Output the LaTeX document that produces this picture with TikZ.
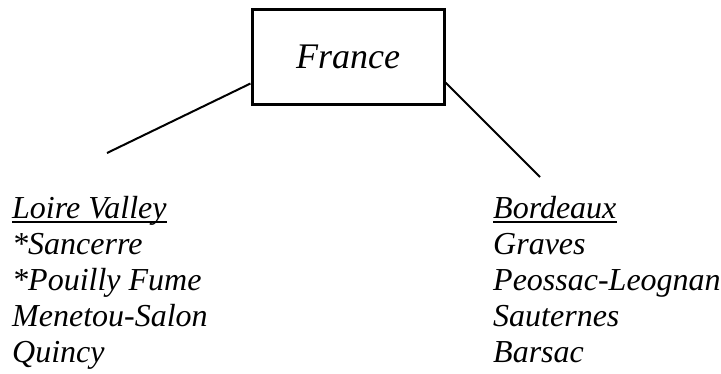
\documentclass[tikz,border=0pt]{standalone}
\usepackage{fontspec}
\setmainfont{Liberation Serif}
\begin{document}
\begin{tikzpicture}[x=1pt,y=-1pt,
  boxstyle/.style={draw, line width=3pt, rectangle, minimum width=192pt, minimum height=95pt, inner sep=0pt, font=\fontsize{36}{40}\selectfont\itshape},
  itemtext/.style={anchor=base west, inner sep=0pt, font=\fontsize{32}{36}\selectfont\itshape},
  link/.style={line width=2pt},
  uline/.style={line width=2pt}]
\useasboundingbox (0,0) rectangle (721,373);
\node[boxstyle] (box) at (348,56.5) {France};
\coordinate (lend) at (107,153);
\coordinate (rend) at (540,177);
\draw[link] ([yshift=22pt]box.south west) -- (lend);
\draw[link] ([yshift=23pt]box.south east) -- (rend);
% left column
\node[itemtext] (l1) at (12,218) {Loire Valley};
\node[itemtext] (l2) at (12,254) {*Sancerre};
\node[itemtext] (l3) at (12,290) {*Pouilly Fume};
\node[itemtext] (l4) at (12,326) {Menetou-Salon};
\node[itemtext] (l5) at (12,362) {Quincy};
\draw[uline] ([yshift=-4pt]l1.base west) -- ([yshift=-4pt]l1.base east);
% right column
\node[itemtext] (r1) at (493,218) {Bordeaux};
\node[itemtext] (r2) at (493,254) {Graves};
\node[itemtext] (r3) at (493,290) {Peossac-Leognan};
\node[itemtext] (r4) at (493,326) {Sauternes};
\node[itemtext] (r5) at (493,362) {Barsac};
\draw[uline] ([yshift=-4pt]r1.base west) -- ([yshift=-4pt]r1.base east);
\end{tikzpicture}
\end{document}
